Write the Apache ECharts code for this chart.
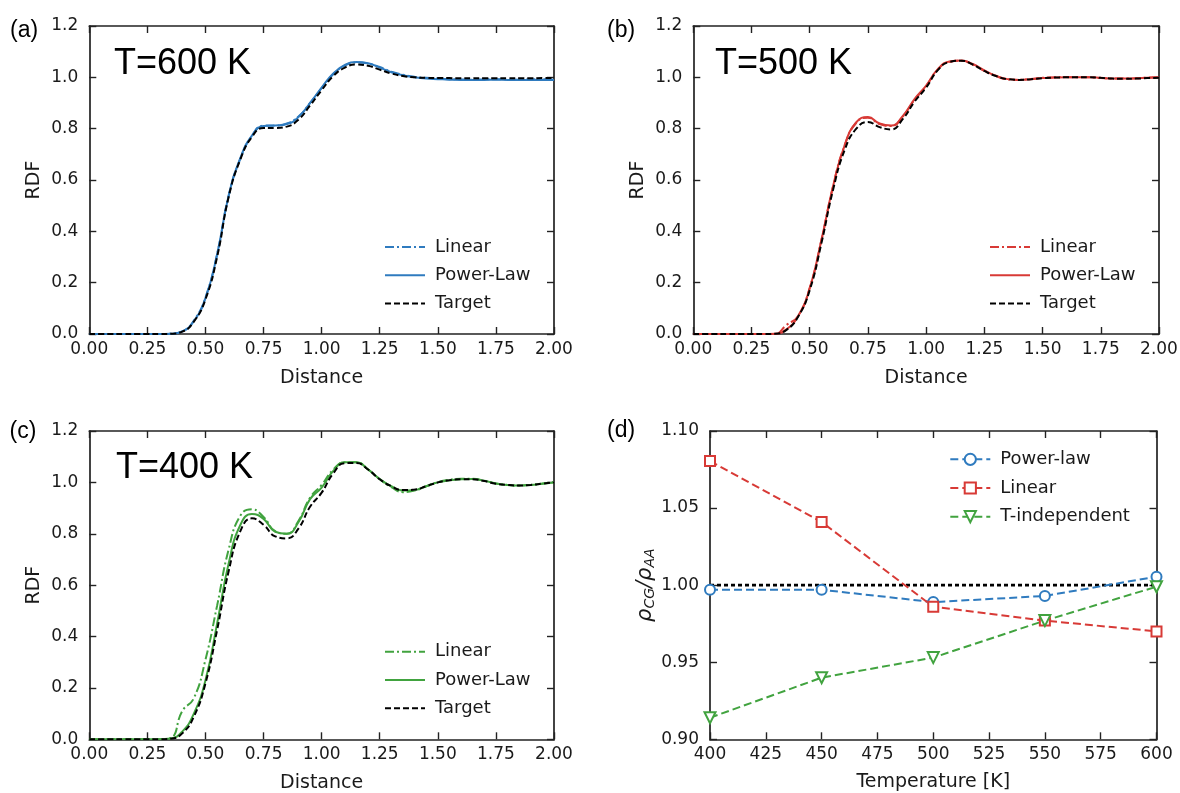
<!DOCTYPE html>
<html><head><meta charset="utf-8">
<script src="https://cdn.jsdelivr.net/npm/echarts@6/dist/echarts.min.js"></script>
<style>html,body{margin:0;padding:0;background:#fff}#c{width:1180px;height:793px}</style>
</head><body><div id="c"></div>
<script>
// ---------- data ----------
const distance = [0.00,0.05,0.10,0.15,0.20,0.25,0.30,0.35,0.40,0.45,0.50,0.55,0.60,0.65,0.70,0.75,0.80,0.85,0.90,0.95,1.00,1.05,1.10,1.15,1.20,1.25,1.30,1.35,1.40,1.45,1.50,1.55,1.60,1.65,1.70,1.75,1.80,1.85,1.90,1.95,2.00];

// T = 600 K
const linear600 = [0,0,0,0,0,0,0,0.001,0.010,0.052,0.142,0.310,0.540,0.683,0.772,0.812,0.812,0.820,0.847,0.900,0.958,1.012,1.046,1.058,1.054,1.040,1.022,1.010,1.002,0.998,0.995,0.993,0.992,0.991,0.992,0.993,0.992,0.991,0.992,0.993,0.993];
const power600  = [0,0,0,0,0,0,0,0.001,0.010,0.050,0.140,0.310,0.540,0.685,0.773,0.810,0.812,0.818,0.845,0.900,0.960,1.015,1.048,1.060,1.055,1.038,1.020,1.008,1.000,0.995,0.993,0.991,0.990,0.990,0.990,0.991,0.990,0.990,0.990,0.990,0.990];
const target600 = [0,0,0,0,0,0,0,0.001,0.009,0.048,0.135,0.300,0.535,0.680,0.768,0.803,0.803,0.808,0.835,0.890,0.950,1.005,1.038,1.050,1.045,1.030,1.015,1.005,1.000,0.998,0.997,0.997,0.996,0.996,0.996,0.996,0.996,0.996,0.996,0.997,0.997];

// T = 500 K
const linear500 = [0,0,0,0,0,0,0,0.000,0.035,0.070,0.180,0.365,0.575,0.735,0.823,0.843,0.818,0.810,0.848,0.912,0.966,1.030,1.060,1.065,1.050,1.025,1.005,0.992,0.990,0.994,0.998,1.000,1.001,1.000,1.000,0.997,0.995,0.995,0.996,0.999,1.000];
const power500  = [0,0,0,0,0,0,0,0.001,0.018,0.070,0.178,0.365,0.575,0.735,0.825,0.845,0.820,0.812,0.850,0.915,0.968,1.032,1.062,1.066,1.052,1.027,1.006,0.993,0.990,0.993,0.997,0.999,1.000,1.000,1.000,0.998,0.995,0.995,0.996,0.998,0.999];
const target500 = [0,0,0,0,0,0,0,0.001,0.016,0.067,0.171,0.353,0.561,0.717,0.800,0.826,0.806,0.797,0.838,0.905,0.960,1.028,1.060,1.065,1.050,1.025,1.005,0.993,0.990,0.993,0.997,0.999,1.000,1.000,1.000,0.998,0.995,0.994,0.995,0.997,0.998];

// T = 400 K
const linear400 = [0,0,0,0,0,0,0,0.005,0.110,0.160,0.310,0.520,0.740,0.870,0.895,0.865,0.810,0.800,0.850,0.940,0.990,1.050,1.078,1.078,1.050,1.012,0.982,0.962,0.968,0.985,1.001,1.010,1.014,1.014,1.006,0.996,0.990,0.988,0.990,0.996,1.001];
const power400  = [0,0,0,0,0,0,0,0.003,0.030,0.100,0.230,0.450,0.685,0.834,0.877,0.858,0.808,0.800,0.845,0.935,0.980,1.045,1.078,1.078,1.050,1.013,0.985,0.968,0.970,0.985,1.000,1.008,1.012,1.013,1.006,0.996,0.990,0.988,0.990,0.995,1.000];
const target400 = [0,0,0,0,0,0,0,0.002,0.023,0.088,0.218,0.425,0.655,0.810,0.860,0.835,0.790,0.782,0.820,0.905,0.960,1.035,1.075,1.075,1.050,1.012,0.985,0.970,0.972,0.985,1.000,1.008,1.012,1.012,1.005,0.995,0.990,0.988,0.990,0.995,1.000];

// Panel (d)
const temperature = [400,450,500,550,600];
const ratioPowerLaw = [0.997,0.997,0.989,0.993,1.0055];
const ratioLinear = [1.0805,1.041,0.986,0.977,0.970];
const ratioTindep = [0.914,0.940,0.953,0.977,0.999];
const referenceT = [400,600];
const referenceRatio = [1.0,1.0];

const panelTitles = ['T=600 K','T=500 K','T=400 K'];
const panelLetters = ['(a)','(b)','(c)','(d)'];
const rdfLegend = ['Linear','Power-Law','Target'];
const densLegend = ['Power-law','Linear','T-independent'];

// ---------- styling ----------
const FONT = '"DejaVu Sans", sans-serif';
const TXT = '#1a1a1a';
const BLUE = '#2f7bbf', RED = '#d83a36', GREEN = '#41a33f';

const grids = [
  {left:89.3, top:26, width:464.7, height:308},
  {left:693.3, top:26, width:465.7, height:308},
  {left:89.3, top:431, width:464.7, height:308.3},
  {left:710, top:431, width:446.5, height:308.3}
].map(g => Object.assign(g, {outerBoundsMode:'none', containLabel:false}));

function axisBase(extra){
  return Object.assign({
    type:'value',
    axisLine:{show:true, onZero:false, lineStyle:{color:'#222', width:1.7}},
    axisTick:{show:true, inside:true, length:7, lineStyle:{color:'#222', width:1.4}},
    splitLine:{show:false},
    minorTick:{show:false},
    axisLabel:{show:false}
  }, extra);
}

const xAxes = [], yAxes = [];
for (let g = 0; g < 4; g++) {
  const isD = g === 3;
  const xr = isD ? {min:400, max:600, interval:25} : {min:0, max:2, interval:0.25};
  const yr = isD ? {min:0.90, max:1.10, interval:0.05} : {min:0, max:1.2, interval:0.2};
  xAxes.push(axisBase(Object.assign({gridIndex:g, position:'bottom',
    name: isD ? 'Temperature [K]' : 'Distance', nameLocation:'middle', nameGap: isD ? 33 : 34.5,
    nameTextStyle:{fontFamily:FONT, fontSize:19, color:TXT},
    axisLabel:{show:true, margin:7, fontFamily:FONT, fontSize:17, color:TXT,
      formatter: v => isD ? String(Math.round(v)) : v.toFixed(2)}}, xr)));
  xAxes.push(axisBase(Object.assign({gridIndex:g, position:'top'}, xr)));
  const yname = isD ? '{r|ρ}{s|CG}{r|/ρ}{s|AA}' : 'RDF';
  yAxes.push(axisBase(Object.assign({gridIndex:g, position:'left',
    name: yname, nameLocation:'middle', nameGap: isD ? 50 : 46,
    nameTextStyle: isD ? {rich:{
        r:{fontFamily:FONT, fontSize:21, fontStyle:'italic', color:TXT},
        s:{fontFamily:FONT, fontSize:14, fontStyle:'italic', color:TXT, padding:[9,0,0,0]}}}
      : {fontFamily:FONT, fontSize:19, color:TXT},
    axisLabel:{show:true, margin:11, fontFamily:FONT, fontSize:17, color:TXT,
      formatter: v => isD ? v.toFixed(2) : v.toFixed(1)}}, yr)));
  yAxes.push(axisBase(Object.assign({gridIndex:g, position:'right'}, yr)));
}

const pairs = (xs, ys) => xs.map((x, i) => [x, ys[i]]);
const DASHDOT = [9,3,2,3], DASH = [6,3];
const rdfSets = [
  [linear600, power600, target600, BLUE],
  [linear500, power500, target500, RED],
  [linear400, power400, target400, GREEN]
];
const tags = ['a','b','c'];
const series = [];
rdfSets.forEach((s, g) => {
  const common = {type:'line', xAxisIndex:2*g, yAxisIndex:2*g, symbol:'none', smooth:0.5, clip:true, animation:false};
  series.push(Object.assign({}, common, {name:rdfLegend[0]+'#'+tags[g], data:pairs(distance, s[0]),
    itemStyle:{color:s[3]}, lineStyle:{color:s[3], width:2, type:DASHDOT}}));
  series.push(Object.assign({}, common, {name:rdfLegend[1]+'#'+tags[g], data:pairs(distance, s[1]),
    itemStyle:{color:s[3]}, lineStyle:{color:s[3], width:2, type:'solid'}}));
  series.push(Object.assign({}, common, {name:rdfLegend[2]+'#'+tags[g], data:pairs(distance, s[2]),
    itemStyle:{color:'#000'}, lineStyle:{color:'#000', width:2, type:DASH}}));
});
const dCommon = {type:'line', xAxisIndex:6, yAxisIndex:6, animation:false, symbolSize:10, clip:false};
series.push(Object.assign({}, dCommon, {name:'reference', data:pairs(referenceT, referenceRatio), symbol:'none',
  itemStyle:{color:'#000'}, lineStyle:{color:'#000', width:2.6, type:[4,3]}}));
series.push(Object.assign({}, dCommon, {name:densLegend[0], data:pairs(temperature, ratioPowerLaw), symbol:'emptyCircle',
  itemStyle:{color:BLUE, borderWidth:1.5}, lineStyle:{color:BLUE, width:2, type:[8,4]}}));
series.push(Object.assign({}, dCommon, {name:densLegend[1], data:pairs(temperature, ratioLinear), symbol:'emptyRect',
  itemStyle:{color:RED, borderWidth:1.5}, lineStyle:{color:RED, width:2, type:[8,4]}}));
series.push(Object.assign({}, dCommon, {name:densLegend[2], data:pairs(temperature, ratioTindep), symbol:'emptyTriangle', symbolRotate:180, symbolSize:11,
  itemStyle:{color:GREEN, borderWidth:1.5}, lineStyle:{color:GREEN, width:2, type:[8,4]}}));

const legendBase = {orient:'vertical', itemWidth:40, itemHeight:14, padding:0, selectedMode:false,
  textStyle:{fontFamily:FONT, fontSize:18, color:TXT, lineHeight:20, padding:[0,0,0,5]},
  formatter: n => n.split('#')[0]};
const legendPos = [[384,237],[989,237],[384,641.7]];
const legends = legendPos.map((p, g) => Object.assign({}, legendBase, {left:p[0], top:p[1], itemGap:8.3,
  data: rdfLegend.map(n => n+'#'+tags[g]), itemStyle:{opacity:0}}));
legends.push(Object.assign({}, legendBase, {left:949.3, top:449.3, itemGap:8.7, data:densLegend}));

const titleFont = '36px "Liberation Sans", Arial, sans-serif';
const letterFont = '23px "Liberation Sans", Arial, sans-serif';
const titlePos = [[114,64],[715,64.5],[116,468.5]];
const letterPos = [[10,31],[607,31],[9.5,432],[607,431]];
const graphics = [];
panelTitles.forEach((t, i) => graphics.push({type:'text', x:titlePos[i][0], y:titlePos[i][1], silent:true,
  style:{text:t, font:titleFont, fill:'#000', verticalAlign:'middle', align:'left'}}));
panelLetters.forEach((t, i) => graphics.push({type:'text', x:letterPos[i][0], y:letterPos[i][1], silent:true,
  style:{text:t, font:letterFont, fill:'#000', verticalAlign:'middle', align:'left'}}));

const chart = echarts.init(document.getElementById('c'), null, {renderer:'canvas'});
chart.setOption({
  animation:false,
  backgroundColor:'#fff',
  grid: grids,
  xAxis: xAxes,
  yAxis: yAxes,
  legend: legends,
  series: series,
  graphic: graphics
});
</script></body></html>
